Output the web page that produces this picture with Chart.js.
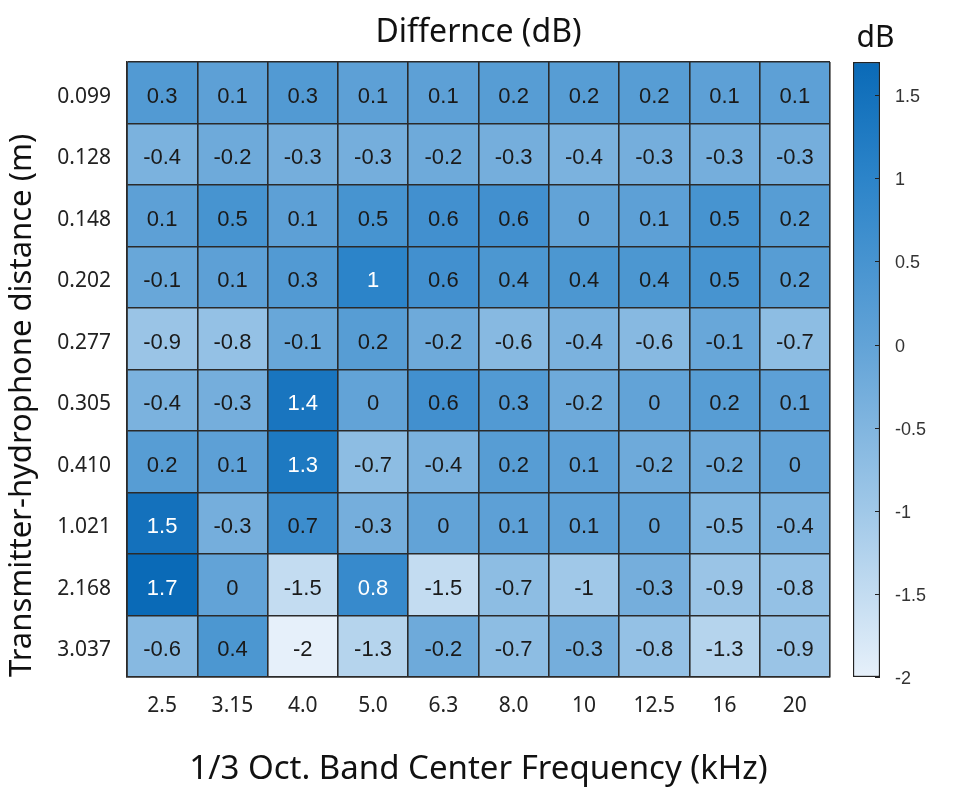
<!DOCTYPE html>
<html>
<head>
<meta charset="utf-8">
<script src="https://cdn.jsdelivr.net/npm/chart.js@4/dist/chart.umd.min.js"></script>
<style>
  html, body { margin: 0; padding: 0; background: #fff; }
  #wrap { position: relative; width: 958px; height: 795px; }
  #heat { position: absolute; left: 0; top: 0; }
  #bar { position: absolute; left: 830px; top: 0; }
</style>
</head>
<body>
<div id="wrap">
  <canvas id="heat" width="958" height="795"></canvas>
  <canvas id="bar" width="128" height="795"></canvas>
</div>
<script>
const frequencies = ['2.5', '3.15', '4.0', '5.0', '6.3', '8.0', '10', '12.5', '16', '20'];
const distances = ['0.099', '0.128', '0.148', '0.202', '0.277', '0.305', '0.410', '1.021', '2.168', '3.037'];

// one row per distance (top to bottom), one value per frequency band
const diff = [
	[0.3, 0.1, 0.3, 0.1, 0.1, 0.2, 0.2, 0.2, 0.1, 0.1],
	[-0.4, -0.2, -0.3, -0.3, -0.2, -0.3, -0.4, -0.3, -0.3, -0.3],
	[0.1, 0.5, 0.1, 0.5, 0.6, 0.6, 0, 0.1, 0.5, 0.2],
	[-0.1, 0.1, 0.3, 1, 0.6, 0.4, 0.4, 0.4, 0.5, 0.2],
	[-0.9, -0.8, -0.1, 0.2, -0.2, -0.6, -0.4, -0.6, -0.1, -0.7],
	[-0.4, -0.3, 1.4, 0, 0.6, 0.3, -0.2, 0, 0.2, 0.1],
	[0.2, 0.1, 1.3, -0.7, -0.4, 0.2, 0.1, -0.2, -0.2, 0],
	[1.5, -0.3, 0.7, -0.3, 0, 0.1, 0.1, 0, -0.5, -0.4],
	[1.7, 0, -1.5, 0.8, -1.5, -0.7, -1, -0.3, -0.9, -0.8],
	[-0.6, 0.4, -2, -1.3, -0.2, -0.7, -0.3, -0.8, -1.3, -0.9]
];

const colorTicks = [-2, -1.5, -1, -0.5, 0, 0.5, 1, 1.5];
const cMin = -2;
const cMax = 1.7;

const colorStops = [
	[-2, [230, 240, 250]],
	[-1, [160, 200, 232]],
	[0, [98, 163, 215]],
	[1, [44, 132, 201]],
	[1.7, [10, 106, 183]]
];

function colorFor(v) {
	for (let i = 1; i < colorStops.length; i++) {
		const [v0, c0] = colorStops[i - 1];
		const [v1, c1] = colorStops[i];
		if (v <= v1 || i === colorStops.length - 1) {
			const t = Math.max(0, Math.min(1, (v - v0) / (v1 - v0)));
			const c = c0.map((x, k) => Math.round(x + (c1[k] - x) * t));
			return `rgb(${c[0]}, ${c[1]}, ${c[2]})`;
		}
	}
}

// stacked bars grow upwards, so the bottom row goes first
const rowOrder = distances.map((_, r) => r).reverse();
const nRows = distances.length;

const tickFont = { family: '"Noto Sans", sans-serif', size: 21 };
const lineCol = '#2a2a2a';

const cellLabels = {
	id: 'cellLabels',
	afterDraw(chart) {
		const ctx = chart.ctx;
		const area = chart.chartArea;
		ctx.save();
		ctx.font = '22px "Liberation Sans", Arial, sans-serif';
		ctx.textAlign = 'center';
		ctx.textBaseline = 'middle';
		rowOrder.forEach((r, k) => {
			const meta = chart.getDatasetMeta(k);
			diff[r].forEach((v, c) => {
				const bar = meta.data[c];
				ctx.fillStyle = v >= 0.8 ? '#ffffff' : '#1a1a1a';
				ctx.fillText(String(v), bar.x, (bar.y + bar.base) / 2 + 4);
			});
		});
		ctx.font = '32px "Noto Sans", sans-serif';
		ctx.fillStyle = '#111';
		ctx.fillText('Differnce (dB)', (area.left + area.right) / 2, area.top - 29);
		ctx.restore();
	}
};

// eslint-disable-next-line no-undef
new Chart(document.getElementById('heat'), {
	type: 'bar',
	data: {
		labels: frequencies,
		datasets: rowOrder.map(r => ({
			label: distances[r],
			data: frequencies.map(() => 1),
			backgroundColor: diff[r].map(colorFor),
			borderWidth: 0,
			barPercentage: 1,
			categoryPercentage: 1
		}))
	},
	options: {
		responsive: false,
		animation: false,
		layout: { padding: { top: 62, right: 128, left: 0, bottom: 0 } },
		plugins: {
			legend: { display: false },
			tooltip: { enabled: false }
		},
		scales: {
			x: {
				stacked: true,
				grid: { offset: true, color: lineCol, lineWidth: 1.6, drawTicks: false, z: 1 },
				border: { color: lineCol, width: 1.6, z: 1 },
				ticks: { padding: 16, font: tickFont, color: '#222', maxRotation: 0 },
				title: {
					display: true,
					text: '1/3 Oct. Band Center Frequency (kHz)',
					font: { family: '"Noto Sans", sans-serif', size: 33 },
					color: '#111',
					padding: { top: 0, bottom: 6 }
				},
				afterFit: s => { s.height = 118; }
			},
			y: {
				stacked: true,
				min: 0,
				max: nRows,
				afterBuildTicks: s => { s.ticks = distances.map((_, i) => ({ value: i + 0.5 })); },
				grid: { offset: true, color: lineCol, lineWidth: 1.6, drawTicks: false, z: 1 },
				border: { color: lineCol, width: 1.6, z: 1 },
				ticks: {
					padding: 16,
					font: tickFont,
					color: '#222',
					autoSkip: false,
					labelOffset: 4,
					callback: (v, i) => distances[nRows - 1 - i]
				},
				title: {
					display: true,
					text: 'Transmitter-hydrophone distance (m)',
					font: { family: '"Noto Sans", sans-serif', size: 31 },
					color: '#111',
					align: 'start',
					padding: { top: 4, bottom: 0 }
				},
				afterFit: s => { s.width = 127; }
			}
		}
	},
	plugins: [cellLabels]
});

const colorbarExtras = {
	id: 'colorbarExtras',
	afterDraw(chart) {
		const ctx = chart.ctx;
		const area = chart.chartArea;
		const y = chart.scales.y;
		ctx.save();
		ctx.strokeStyle = '#222';
		ctx.lineWidth = 1;
		colorTicks.forEach(v => {
			const py = Math.round(y.getPixelForValue(v)) + 0.5;
			ctx.beginPath();
			ctx.moveTo(area.right - 5, py);
			ctx.lineTo(area.right, py);
			ctx.stroke();
		});
		ctx.font = '30px "Noto Sans", sans-serif';
		ctx.fillStyle = '#111';
		ctx.textAlign = 'center';
		ctx.textBaseline = 'middle';
		ctx.fillText('dB', (area.left + area.right) / 2 + 9, area.top - 24);
		ctx.restore();
	}
};

// eslint-disable-next-line no-undef
new Chart(document.getElementById('bar'), {
	type: 'bar',
	data: {
		labels: ['dB'],
		datasets: [{
			data: [[cMin, cMax]],
			backgroundColor: (c) => {
				const area = c.chart.chartArea;
				if (!area) return colorFor(0);
				const g = c.chart.ctx.createLinearGradient(0, area.bottom, 0, area.top);
				colorStops.forEach(([v, col]) => {
					g.addColorStop((v - cMin) / (cMax - cMin), `rgb(${col[0]}, ${col[1]}, ${col[2]})`);
				});
				return g;
			},
			borderColor: '#222',
			borderWidth: 1.5,
			borderSkipped: false,
			barPercentage: 1,
			categoryPercentage: 1
		}]
	},
	options: {
		responsive: false,
		animation: false,
		layout: { padding: { left: 23, top: 62, bottom: 118, right: 0 } },
		plugins: {
			legend: { display: false },
			tooltip: { enabled: false }
		},
		scales: {
			x: { display: false },
			y: {
				position: 'right',
				min: cMin,
				max: cMax,
				afterBuildTicks: s => { s.ticks = colorTicks.map(v => ({ value: v })); },
				grid: { display: false },
				border: { display: false },
				ticks: {
					padding: 7,
					font: { family: '"Liberation Sans", Arial, sans-serif', size: 18 },
					color: '#333',
					labelOffset: 2,
					callback: v => String(v)
				},
				afterFit: s => { s.width = 78; }
			}
		}
	},
	plugins: [colorbarExtras]
});
</script>
</body>
</html>
